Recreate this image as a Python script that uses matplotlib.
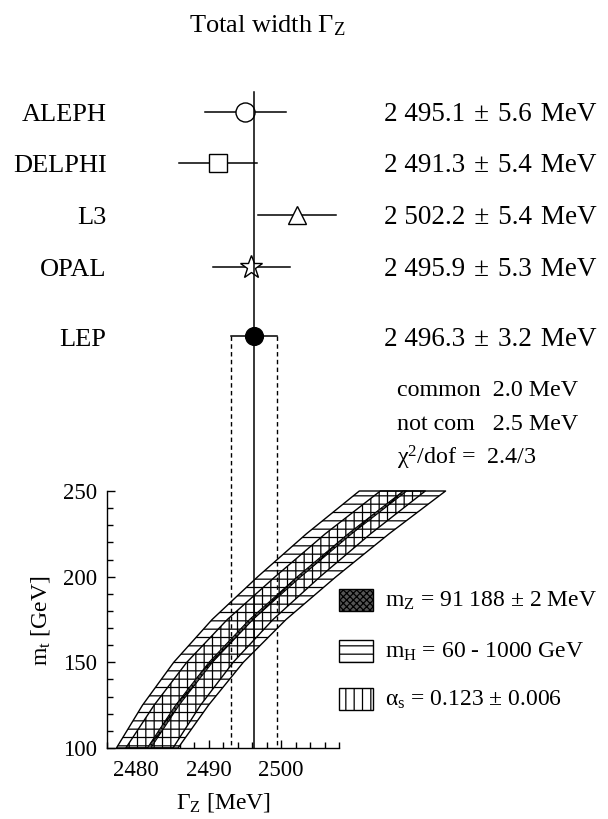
import numpy as np
import matplotlib
matplotlib.use("Agg")
import matplotlib.pyplot as plt
from matplotlib.patches import Rectangle

plt.rcParams['font.family'] = ['Liberation Serif', 'DejaVu Serif']
plt.rcParams['mathtext.fontset'] = 'custom'
plt.rcParams['mathtext.rm'] = 'Liberation Serif'
plt.rcParams['mathtext.it'] = 'Liberation Serif:italic'
plt.rcParams['hatch.linewidth'] = 0.9

# ---------------- data ----------------
experiments = ['ALEPH', 'DELPHI', 'L3', 'OPAL', 'LEP']
gamma_z = [2495.1, 2491.3, 2502.2, 2495.9, 2496.3]
gamma_err = [5.6, 5.4, 5.4, 5.3, 3.2]
markers = ['o', 's', '^', '*', 'o']
filled = [False, False, False, False, True]

common_err = 2.0
notcommon_err = 2.5
chi2_text = '2.4/3'

# SM prediction bands (m_t vs Gamma_Z)
mt_pts = [100, 125, 150, 175, 200, 225, 250]
gz_center = [2481.8, 2485.7, 2490.3, 2495.9, 2502.5, 2509.5, 2517.1]
gz_mh_low = [2477.3, 2480.9, 2485.2, 2490.5, 2496.8, 2503.5, 2510.8]
gz_mh_high = [2485.8, 2490.0, 2494.8, 2500.7, 2507.6, 2514.9, 2522.7]
gz_as_low = [2478.6, 2482.5, 2487.0, 2492.6, 2499.2, 2506.1, 2513.7]
gz_as_high = [2485.1, 2488.9, 2493.4, 2498.9, 2505.4, 2512.35, 2519.9]
mz_halfwidth = 0.25

legend_labels = [r'm$_\mathrm{Z}$ = 91 188 ± 2 MeV',
                 r'm$_\mathrm{H}$ = 60 - 1000 GeV',
                 r'α$_\mathrm{s}$ = 0.123 ± 0.006']

x_ticks_major = [2480, 2490, 2500]
y_ticks_major = [100, 150, 200, 250]

# ---------------- layout ----------------
W, H = 608, 819
fig = plt.figure(figsize=(W / 100, H / 100), dpi=100)

ax_l, ax_r, ax_b, ax_t = 107, 339, 748, 491
ax = fig.add_axes([ax_l / W, 1 - ax_b / H, (ax_r - ax_l) / W, (ax_b - ax_t) / H])
ax.set_xlim(2476, 2508)
ax.set_ylim(100, 250)
for s in ['top', 'right']:
    ax.spines[s].set_visible(False)
for s in ['left', 'bottom']:
    ax.spines[s].set_linewidth(1.0)
ax.set_xticks(x_ticks_major)
ax.set_xticks(np.arange(2476, 2509, 2), minor=True)
ax.set_yticks(y_ticks_major)
ax.set_yticks(np.arange(100, 251, 10), minor=True)
ax.tick_params(which='both', direction='in', width=1.0, labelsize=16.5)
ax.tick_params(which='major', length=6)
ax.tick_params(which='minor', length=4.5)
ax.tick_params(axis='x', pad=9)
ax.tick_params(axis='y', pad=7)

mt = np.array(mt_pts)
ax.fill_betweenx(mt, gz_mh_low, gz_mh_high, facecolor='white', edgecolor='black',
                 hatch='--', linewidth=1.0, clip_on=False, zorder=2)
ax.fill_betweenx(mt, gz_as_low, gz_as_high, facecolor='none', edgecolor='black',
                 hatch='||', linewidth=1.0, clip_on=False, zorder=3)
c = np.array(gz_center)
ax.fill_betweenx(mt, c - mz_halfwidth, c + mz_halfwidth, facecolor='#555555',
                 edgecolor='black', hatch='xxxxx', linewidth=0.7, clip_on=False, zorder=4)

# overlay axis for the measurement part (y in pixel rows)
axt = fig.add_axes([ax_l / W, 1 - ax_b / H, (ax_r - ax_l) / W, ax_b / H])
axt.set_xlim(2476, 2508)
axt.set_ylim(ax_b, 0)
axt.axis('off')
axt.patch.set_alpha(0)

row_y = [111.5, 163, 215, 266.5, 336]
line_top = 92

for name, v, e, m, f, y in zip(experiments, gamma_z, gamma_err, markers, filled, row_y):
    axt.plot([v - e, v + e], [y, y], color='black', lw=1.1, zorder=3, clip_on=False)
    ms = {'o': 13.7, 's': 13.3, '^': 13.5, '*': 17}[m]
    if f:
        ms = 12.8
    axt.plot([v], [y], marker=m, ms=ms, mfc='black' if f else 'white', mec='black',
             mew=1.0, ls='none', zorder=5, clip_on=False)

lep = gamma_z[-1]
lep_e = gamma_err[-1]
axt.plot([lep, lep], [line_top, ax_b], color='black', lw=1.1, zorder=6, clip_on=False)
for xv in (lep - lep_e, lep + lep_e):
    axt.plot([xv, xv], [row_y[-1], ax_b], color='black', lw=1.0, zorder=4,
             dashes=(3.2, 2.4), clip_on=False)

# figure-pixel overlay for texts / legend
axf = fig.add_axes([0, 0, 1, 1])
axf.set_xlim(0, W)
axf.set_ylim(H, 0)
axf.axis('off')
axf.patch.set_alpha(0)

axf.text(267, 32, r'Total width Γ$_\mathrm{Z}$', fontsize=19, ha='center', va='baseline')

sp = '\u2004'
for name, v, e, y in zip(experiments, gamma_z, gamma_err, row_y):
    axf.text(106.5, y + 9.5, name, fontsize=19, ha='right', va='baseline')
    s = f"{int(v // 1000)} {v - 1000 * int(v // 1000):05.1f}{sp}±{sp}{e:.1f}{sp}MeV"
    axf.text(384, y + 9.5, s, fontsize=19.5, ha='left', va='baseline')

axf.text(397, 396, f'common  {common_err:.1f} MeV', fontsize=17.3, ha='left', va='baseline')
axf.text(397, 430, f'not com   {notcommon_err:.1f} MeV', fontsize=17.3, ha='left', va='baseline')
axf.text(397, 464, r'χ$^2$/dof =  ' + chi2_text, fontsize=17.3, ha='left', va='baseline')

# legend
leg_rows = [589, 640, 688]
styles = [dict(facecolor='#555555', hatch='xxxxx', lw=1.0),
          dict(facecolor='white', hatch='--', lw=1.0),
          dict(facecolor='white', hatch='||', lw=1.0)]
for yy, lab, st in zip(leg_rows, legend_labels, styles):
    axf.add_patch(Rectangle((339, yy), 34, 22, edgecolor='black', **st))
    axf.text(385, yy + 18, lab, fontsize=17, ha='left', va='baseline')

axf.text(223, 809, r'Γ$_\mathrm{Z}$ [MeV]', fontsize=17, ha='center', va='baseline')
axf.text(41, 621, r'm$_\mathrm{t}$ [GeV]', fontsize=17, ha='center', va='center', rotation=90)

fig.savefig('out.png', dpi=100)
